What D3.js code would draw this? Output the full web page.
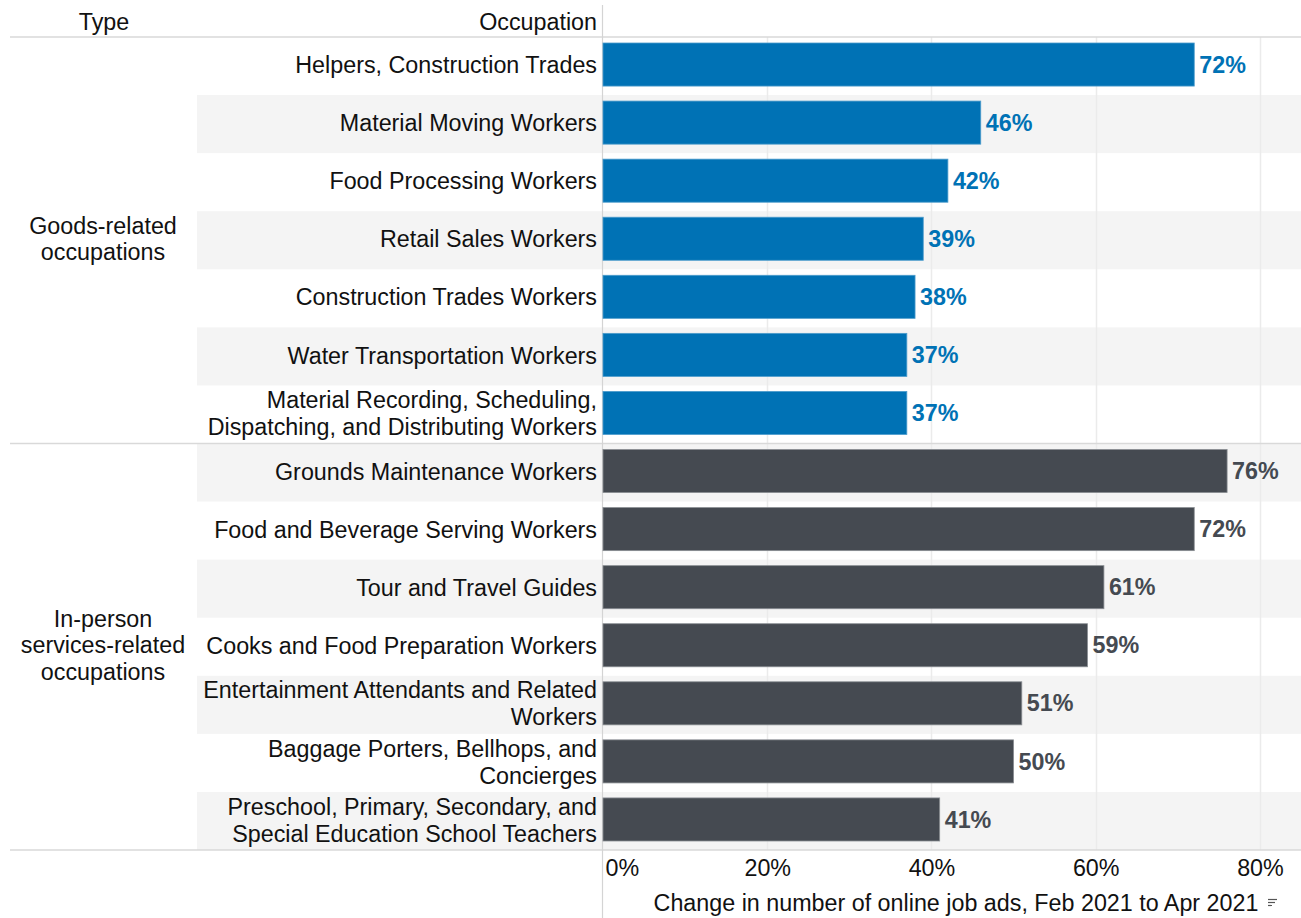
<!DOCTYPE html>
<html>
<head>
<meta charset="utf-8">
<script src="https://cdn.jsdelivr.net/npm/d3@7"></script>
<style>
  html, body { margin: 0; padding: 0; background: #fff; }
  svg text { font-family: "Liberation Sans", Arial, sans-serif; }
</style>
</head>
<body>
<svg id="chart" width="1301" height="918"></svg>
<script>
// Occupation groups and their rows (top to bottom)
const groups = ["Goods-related occupations", "In-person services-related occupations"];
const groupLabels = [["Goods-related", "occupations"], ["In-person", "services-related", "occupations"]];

const goodsOccupations = [
  ["Helpers, Construction Trades"],
  ["Material Moving Workers"],
  ["Food Processing Workers"],
  ["Retail Sales Workers"],
  ["Construction Trades Workers"],
  ["Water Transportation Workers"],
  ["Material Recording, Scheduling,", "Dispatching, and Distributing Workers"]
];
const goodsValues = [72, 46, 42, 39, 38, 37, 37];

const serviceOccupations = [
  ["Grounds Maintenance Workers"],
  ["Food and Beverage Serving Workers"],
  ["Tour and Travel Guides"],
  ["Cooks and Food Preparation Workers"],
  ["Entertainment Attendants and Related", "Workers"],
  ["Baggage Porters, Bellhops, and", "Concierges"],
  ["Preschool, Primary, Secondary, and", "Special Education School Teachers"]
];
const serviceValues = [76, 72, 61, 59, 51, 50, 41];

const tickValues = [0, 20, 40, 60, 80];
const axisTitle = "Change in number of online job ads, Feb 2021 to Apr 2021";

const groupColors = ["#0072b5", "#454a51"];
const groupStroke = ["#4d9ccc", "#8a8e93"];

// Build row table
const rows = [];
goodsOccupations.forEach((lab, i) => rows.push({ id: "g" + i, lines: lab, value: goodsValues[i], group: 0 }));
serviceOccupations.forEach((lab, i) => rows.push({ id: "s" + i, lines: lab, value: serviceValues[i], group: 1 }));

const svg = d3.select("#chart");
const W = 1301, H = 918;
const plotTop = 37, plotBottom = 850;
const axisX = 602.5;
const fontSize = 23.3;

const x = d3.scaleLinear().domain([0, 85]).range([603, 1301]);
const y = d3.scaleBand().domain(rows.map(r => r.id)).range([plotTop, plotBottom]).paddingInner(0).paddingOuter(0);
const barPad = 7.5;

// Alternating row bands
svg.append("g").selectAll("rect")
  .data(rows.filter((r, i) => i % 2 === 1))
  .join("rect")
  .attr("x", 197).attr("width", W - 197)
  .attr("y", d => y(d.id)).attr("height", y.bandwidth())
  .attr("fill", "#f4f4f4");

// Vertical gridlines
svg.append("g").selectAll("line")
  .data(tickValues.filter(t => t > 0))
  .join("line")
  .attr("x1", d => Math.round(x(d)) + 0.5).attr("x2", d => Math.round(x(d)) + 0.5)
  .attr("y1", plotTop).attr("y2", plotBottom)
  .attr("stroke", "#ebebeb").attr("stroke-width", 1.5);

// Horizontal separators: header, group divider, bottom
const groupSize = goodsOccupations.length;
[plotTop, y(rows[groupSize].id), plotBottom].forEach(yy => {
  svg.append("line")
    .attr("x1", 10).attr("x2", W)
    .attr("y1", yy).attr("y2", yy)
    .attr("stroke", "#d9d9d9").attr("stroke-width", 1.5);
});

// Vertical axis line
svg.append("line")
  .attr("x1", axisX).attr("x2", axisX)
  .attr("y1", 5).attr("y2", H)
  .attr("stroke", "#d4d4d4").attr("stroke-width", 1.2);

// Bars
svg.append("g").selectAll("rect")
  .data(rows)
  .join("rect")
  .attr("x", x(0))
  .attr("y", d => y(d.id) + barPad - 1.5)
  .attr("width", d => x(d.value) - x(0))
  .attr("height", y.bandwidth() - 2 * barPad)
  .attr("fill", d => groupColors[d.group])
  .attr("stroke", d => groupStroke[d.group])
  .attr("stroke-width", 0.8);

// Value labels
svg.append("g").selectAll("text")
  .data(rows)
  .join("text")
  .attr("x", d => x(d.value) + 5)
  .attr("y", d => y(d.id) + y.bandwidth() / 2 - 1.5)
  .attr("dy", "0.35em")
  .attr("font-size", fontSize)
  .attr("font-weight", "bold")
  .attr("fill", d => groupColors[d.group])
  .text(d => d.value + "%");

// Occupation labels (one or two lines, right aligned)
const lineH = 27;
const occ = svg.append("g").selectAll("text")
  .data(rows)
  .join("text")
  .attr("text-anchor", "end")
  .attr("font-size", fontSize)
  .attr("fill", "#111");
occ.each(function(d) {
  const cy = y(d.id) + y.bandwidth() / 2 - 1;
  const n = d.lines.length;
  d3.select(this).selectAll("tspan")
    .data(d.lines)
    .join("tspan")
    .attr("x", 597)
    .attr("y", (l, i) => cy + (i - (n - 1) / 2) * lineH)
    .attr("dy", "0.35em")
    .text(l => l);
});

// Group (type) labels, centered on their rows
groups.forEach((g, gi) => {
  const ids = rows.filter(r => r.group === gi).map(r => r.id);
  const cy = (y(ids[0]) + y(ids[ids.length - 1]) + y.bandwidth()) / 2 - 1.5;
  const lines = groupLabels[gi];
  const t = svg.append("text")
    .attr("text-anchor", "middle")
    .attr("font-size", fontSize)
    .attr("fill", "#111");
  lines.forEach((l, i) => {
    t.append("tspan")
      .attr("x", 103)
      .attr("y", cy + (i - (lines.length - 1) / 2) * 26.5)
      .attr("dy", "0.35em")
      .text(l);
  });
});

// Column headers
svg.append("text").attr("x", 104).attr("y", 22).attr("dy", "0.35em")
  .attr("text-anchor", "middle").attr("font-size", fontSize).attr("fill", "#111").text("Type");
svg.append("text").attr("x", 597).attr("y", 22).attr("dy", "0.35em")
  .attr("text-anchor", "end").attr("font-size", fontSize).attr("fill", "#111").text("Occupation");

// X axis tick labels
const axis = d3.axisBottom(x).tickValues(tickValues).tickFormat(d => d + "%").tickSize(0).tickPadding(0);
const ax = svg.append("g").attr("transform", `translate(0, ${plotBottom})`).call(axis);
ax.select(".domain").remove();
ax.selectAll("text")
  .attr("font-size", fontSize)
  .attr("fill", "#111")
  .attr("y", 18)
  .attr("dy", "0.35em")
  .attr("text-anchor", d => d === 0 ? "start" : "middle")
  .attr("x", d => d === 0 ? 2 : 0);

// Axis title with sort indicator
svg.append("text").attr("x", 956).attr("y", 903).attr("dy", "0.35em")
  .attr("text-anchor", "middle").attr("font-size", fontSize).attr("fill", "#111").text(axisTitle);
const sortIcon = svg.append("g").attr("stroke", "#555").attr("stroke-width", 1.2);
[[0, 9], [3, 7], [6, 4]].forEach(([dy, len]) => {
  sortIcon.append("line")
    .attr("x1", 1268).attr("x2", 1268 + len)
    .attr("y1", 899 + dy + 0.5).attr("y2", 899 + dy + 0.5);
});
</script>
</body>
</html>
